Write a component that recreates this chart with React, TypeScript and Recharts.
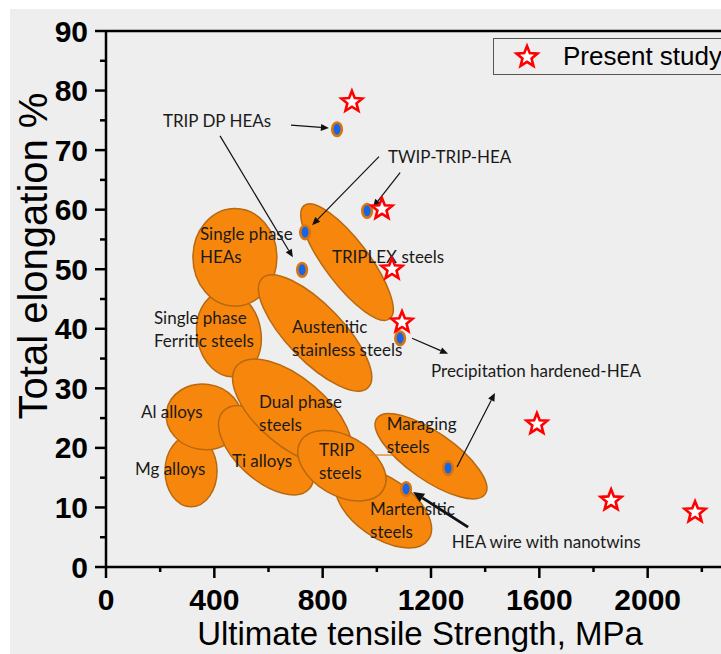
import React from "react";
import {
  ScatterChart,
  Scatter,
  XAxis,
  YAxis,
  ReferenceArea,
  ReferenceLine,
  Legend,
} from "recharts";

// present study (red stars)
const starX = [908, 1019, 1056, 1093, 1591, 1865, 2175];
const starY = [78.1, 60.1, 50.0, 41.1, 24.0, 11.2, 9.2];

// literature HEA points (blue dots)
const dotX = [853, 735, 724, 964, 1086, 1263, 1108];
const dotY = [73.5, 56.2, 49.9, 59.8, 38.4, 16.6, 13.1];

// property regions: centre, half-extent before rotation, tilt (deg)
const regionName = [
  "Mg alloys",
  "Al alloys",
  "Ferritic steels",
  "Single phase HEAs",
  "Austenitic stainless steels",
  "Ti alloys",
  "Dual phase steels",
  "Martensitic steels",
  "TRIP steels",
  "Maraging steels",
  "TRIPLEX steels",
];
const regionX = [314, 362, 454, 476, 772, 591, 687, 1024, 871, 1200, 890];
const regionY = [16.1, 25.2, 39.1, 52.0, 39.3, 19.6, 26.0, 9.9, 17.0, 18.6, 51.2];
const regionDX = [96, 140, 118, 155, 281, 214, 266, 203, 177, 244, 262];
const regionDY = [6.0, 5.5, 7.2, 8.2, 4.7, 5.0, 5.7, 5.0, 5.0, 4.0, 3.7];
const regionTilt = [0, 8, -10, 0, 46, 42, 40, 35, 30, 35, 53];

// annotation texts
const labelText = [
  "TRIP DP HEAs",
  "TWIP-TRIP-HEA",
  "Single phase\nHEAs",
  "TRIPLEX steels",
  "Single phase\nFerritic steels",
  "Austenitic\nstainless steels",
  "Precipitation hardened-HEA",
  "Al alloys",
  "Dual phase\nsteels",
  "Mg alloys",
  "Ti alloys",
  "TRIP\nsteels",
  "Maraging\nsteels",
  "Martensitic\nsteels",
  "HEA wire with nanotwins",
];
const labelX = [210, 1041, 347, 834, 177, 687, 1200, 129, 565, 107, 465, 786, 1037, 975, 1277];
const labelY = [73.9, 67.8, 54.9, 51.0, 40.8, 39.3, 31.9, 25.0, 26.7, 15.4, 16.8, 18.6, 23.0, 8.7, 3.2];

// arrows: from -> to
const arrowFromX = [683, 421, 1008, 1086, 1130, 1296, 1337];
const arrowFromY = [74.2, 72.4, 68.9, 66.2, 38.4, 16.8, 6.7];
const arrowToX = [823, 690, 761, 986, 1263, 1436, 1134];
const arrowToY = [73.7, 52.0, 57.4, 60.4, 35.8, 29.2, 12.6];
const arrowBold = [false, false, false, false, false, false, true];

const xTicks = Array.from({ length: 12 }, (_, i) => i * 200);
const yTicks = Array.from({ length: 19 }, (_, i) => i * 5);

const stars = starX.map((x, i) => ({ x, y: starY[i] }));
const dots = dotX.map((x, i) => ({ x, y: dotY[i] }));
const labels = labelText.map((text, i) => ({ x: labelX[i], y: labelY[i], text }));

const AXIS_FONT = "'Liberation Sans', Arial, sans-serif";
const NOTE_FONT = "Lato, 'Open Sans', sans-serif";
const ORANGE = "#f7870c";
const ORANGE_EDGE = "#b8680e";

function XTick(props: any) {
  const { x, y, payload } = props;
  const major = payload.value % 400 === 0;
  const axisY = y - 15;
  return (
    <g>
      <line x1={x} x2={x} y1={axisY} y2={axisY + (major ? 11 : 5)} stroke="#000" strokeWidth={2.5} />
      {major && (
        <text x={x} y={axisY + 43} textAnchor="middle" fontFamily={AXIS_FONT} fontWeight="bold" fontSize={30} fill="#000">
          {payload.value}
        </text>
      )}
    </g>
  );
}

function YTick(props: any) {
  const { x, y, payload } = props;
  const major = payload.value % 10 === 0;
  return (
    <g>
      <line x1={x + (major ? 7 : 12)} x2={x + 18} y1={y} y2={y} stroke="#000" strokeWidth={2.5} />
      {major && (
        <text x={x} y={y + 10.5} textAnchor="end" fontFamily={AXIS_FONT} fontWeight="bold" fontSize={30} fill="#000">
          {payload.value}
        </text>
      )}
    </g>
  );
}

function starPoints(cx: number, cy: number, R: number, r: number) {
  const pts: string[] = [];
  for (let i = 0; i < 10; i++) {
    const rad = i % 2 === 0 ? R : r;
    const a = -Math.PI / 2 + (i * Math.PI) / 5;
    pts.push(`${cx + rad * Math.cos(a)},${cy + rad * Math.sin(a)}`);
  }
  return pts.join(" ");
}

const StarShape = (props: any) => (
  <polygon points={starPoints(props.cx, props.cy, 11, 4.8)} fill="#fff" stroke="#ff0000" strokeWidth={2.6} strokeLinejoin="miter" />
);

const DotShape = (props: any) => (
  <ellipse cx={props.cx} cy={props.cy} rx={4.8} ry={6.8} fill="#1565e8" stroke="#d8740e" strokeWidth={2.6} />
);

const LabelShape = (props: any) => {
  const { cx, cy, payload } = props;
  const lines = String(payload.text).split("\n");
  return (
    <text x={cx} y={cy} fontFamily={NOTE_FONT} fontSize={17} fill="#1a1a1a">
      {lines.map((l, i) => (
        <tspan key={i} x={cx} dy={i === 0 ? 0 : 23}>
          {l}
        </tspan>
      ))}
    </text>
  );
};

const ellipseShape = (tilt: number) => (p: any) => {
  const cx = p.x + p.width / 2;
  const cy = p.y + p.height / 2;
  return (
    <ellipse
      cx={cx}
      cy={cy}
      rx={Math.abs(p.width) / 2}
      ry={Math.abs(p.height) / 2}
      transform={`rotate(${tilt} ${cx} ${cy})`}
      fill={ORANGE}
      stroke={ORANGE_EDGE}
      strokeWidth={1.5}
    />
  );
};

const arrowShape = (bold: boolean) => (p: any) => {
  const { x1, y1, x2, y2 } = p;
  const len = Math.hypot(x2 - x1, y2 - y1) || 1;
  const ux = (x2 - x1) / len;
  const uy = (y2 - y1) / len;
  const hl = bold ? 11 : 8;
  const hw = bold ? 5 : 3.5;
  const bx = x2 - ux * hl;
  const by = y2 - uy * hl;
  return (
    <g>
      <line x1={x1} y1={y1} x2={bx} y2={by} stroke="#111" strokeWidth={bold ? 2.8 : 1.2} />
      <polygon
        points={`${x2},${y2} ${bx - uy * hw},${by + ux * hw} ${bx + uy * hw},${by - ux * hw}`}
        fill="#111"
      />
    </g>
  );
};

function LegendBox() {
  return (
    <div
      style={{
        width: 240,
        height: 37,
        border: "1px solid #555",
        display: "flex",
        alignItems: "center",
        boxSizing: "border-box",
      }}
    >
      <svg width={62} height={37}>
        <polygon points={starPoints(33, 19, 11, 4.8)} fill="#fff" stroke="#ff0000" strokeWidth={2.6} />
      </svg>
      <span style={{ fontFamily: AXIS_FONT, fontSize: 26, color: "#000", marginLeft: 7 }}>Present study</span>
    </div>
  );
}

export default function App() {
  return (
    <div
      style={{
        position: "fixed",
        left: 0,
        top: 0,
        width: 721,
        height: 654,
        overflow: "hidden",
        background: "#fff",
      }}
    >
      <div style={{ position: "absolute", left: 10, top: 9, right: 0, bottom: 0, background: "#eeeeee" }} />
      <div style={{ position: "absolute", left: 0, top: 0 }}>
        <ScatterChart width={770} height={654} margin={{ top: 31, right: 14, bottom: 0, left: 0 }}>
          <XAxis
            type="number"
            dataKey="x"
            domain={[0, 2400]}
            ticks={xTicks}
            interval={0}
            height={87}
            tickSize={11}
            tickMargin={4}
            tickLine={false}
            axisLine={{ stroke: "#000", strokeWidth: 2.5 }}
            tick={<XTick />}
            label={{
              content: () => (
                <text x={420} y={645} textAnchor="middle" fontFamily={AXIS_FONT} fontSize={33} fill="#000">
                  Ultimate tensile Strength, MPa
                </text>
              ),
            }}
          />
          <YAxis
            type="number"
            dataKey="y"
            domain={[0, 90]}
            ticks={yTicks}
            interval={0}
            width={106}
            tickSize={11}
            tickMargin={7}
            tickLine={false}
            axisLine={{ stroke: "#000", strokeWidth: 2.5 }}
            tick={<YTick />}
            label={{
              content: () => (
                <text
                  x={47}
                  y={256}
                  transform="rotate(-90 47 256)"
                  textAnchor="middle"
                  fontFamily={AXIS_FONT}
                  fontSize={40}
                  fill="#000"
                >
                  {"Total elongation %"}
                </text>
              ),
            }}
          />
          <ReferenceLine y={90} stroke="#000" strokeWidth={2.5} />
          {regionName.map((name, i) => (
            <ReferenceArea
              key={name}
              x1={regionX[i] - regionDX[i]}
              x2={regionX[i] + regionDX[i]}
              y1={regionY[i] - regionDY[i]}
              y2={regionY[i] + regionDY[i]}
              ifOverflow="visible"
              shape={ellipseShape(regionTilt[i])}
            />
          ))}
          <ReferenceLine
            segment={[
              { x: 972, y: 18.8 },
              { x: 1070, y: 18.8 },
            ]}
            stroke="#e07a10"
            strokeWidth={1.2}
          />
          {arrowFromX.map((fx, i) => (
            <ReferenceLine
              key={`arrow-${i}`}
              segment={[
                { x: fx, y: arrowFromY[i] },
                { x: arrowToX[i], y: arrowToY[i] },
              ]}
              ifOverflow="visible"
              shape={arrowShape(arrowBold[i])}
            />
          ))}
          <Scatter name="labels" data={labels} shape={LabelShape} isAnimationActive={false} legendType="none" />
          <Scatter name="HEAs" data={dots} shape={DotShape} isAnimationActive={false} legendType="none" />
          <Scatter name="Present study" data={stars} shape={StarShape} isAnimationActive={false} />
          <Legend
            layout="horizontal"
            verticalAlign="middle"
            align="center"
            wrapperStyle={{ top: 38, left: 493, width: 240 }}
            content={() => <LegendBox />}
          />
        </ScatterChart>
      </div>
    </div>
  );
}
